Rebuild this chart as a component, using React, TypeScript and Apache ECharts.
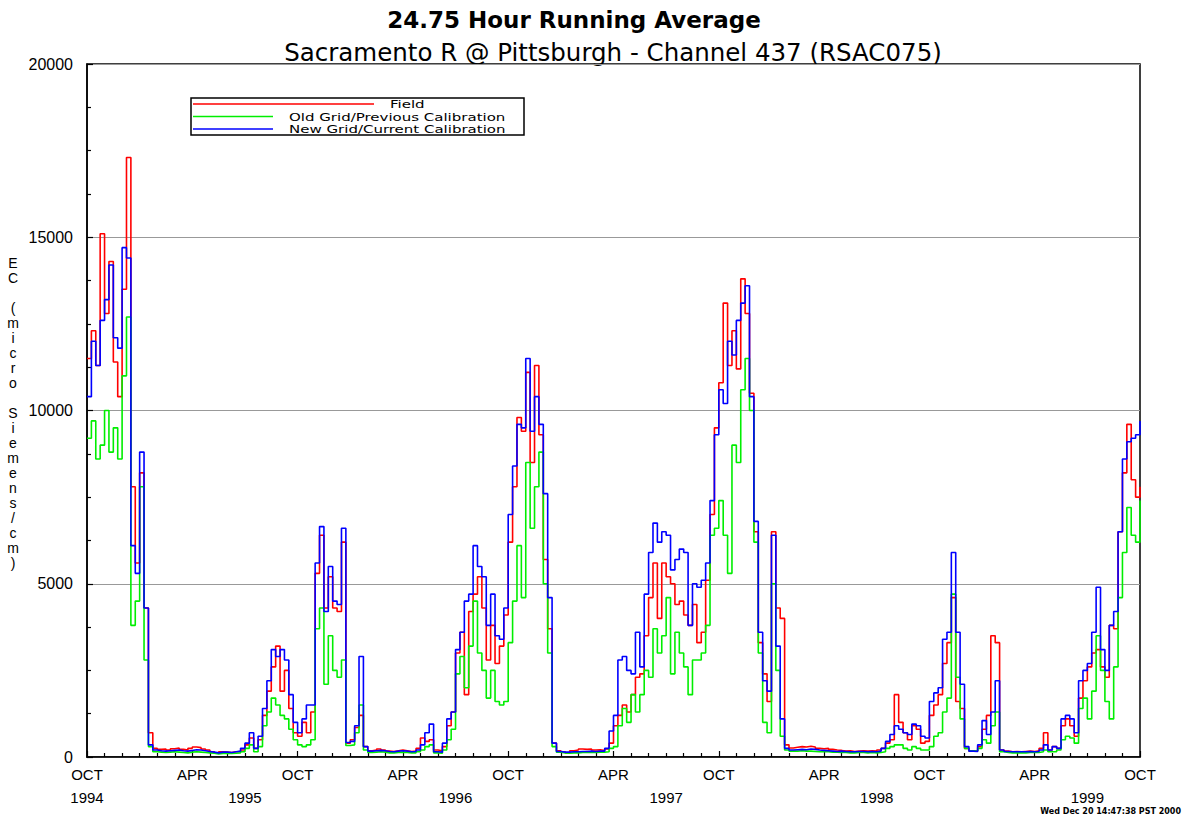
import React, { useEffect, useRef } from 'react';
import * as echarts from 'echarts';

const FONT = '"Liberation Sans", Arial, Helvetica, sans-serif';
const WIDE_FONT = '"DejaVu Sans", "Liberation Sans", Arial, sans-serif';

const chartTitle = '24.75 Hour Running Average';
const chartSubtitle = 'Sacramento R @ Pittsburgh - Channel 437 (RSAC075)';
const yAxisName = 'EC (micro Siemens/cm)';
const timestamp = 'Wed Dec 20 14:47:38 PST 2000';
const seriesNames = ['Field', 'Old Grid/Previous Calibration', 'New Grid/Current Calibration'];
const seriesColors = ['#ff0000', '#00ee00', '#0000ff'];

// x axis: months since 1 Oct 1994, quarter-month samples
const STEP = 0.25;
const monthLabelOct = 'OCT';
const monthLabelApr = 'APR';
const yearLabels = ['1994', '1995', '1996', '1997', '1998', '1999'];
const yearLabelMonths = [0, 9, 21, 33, 45, 57];

// EC values (micro Siemens/cm), one row per water year
const field = [
  11500, 12300, 11300, 15100, 12800, 14300, 11400, 10400, 13500, 17300, 7800, 5600, 8200, 4300, 700, 250,
  220, 230, 200, 240, 260, 220, 200, 250, 290, 270, 230, 200, 150, 110, 150, 140,
  130, 150, 160, 200, 350, 550, 250, 500, 1200, 1900, 2600, 3200, 1900, 2500, 1400, 700,

  600, 1000, 700, 1300, 5300, 6400, 4300, 5200, 4300, 4200, 6200, 400, 500, 850, 1200, 300,
  180, 200, 230, 200, 170, 160, 180, 200, 180, 160, 170, 250, 550, 450, 500, 200,
  180, 300, 900, 1300, 3000, 3600, 1800, 4200, 4700, 5200, 4300, 2800, 3800, 2700, 3200, 4100,

  6200, 7800, 9800, 9400, 11100, 8500, 11300, 9300, 5700, 3700, 400, 180, 150, 120, 180, 200,
  230, 220, 230, 200, 210, 190, 230, 400, 900, 1200, 1500, 1300, 1800, 2300, 2400, 3500,
  4600, 5600, 4000, 5600, 5200, 5000, 4400, 4500, 4100, 3800, 4400, 3300, 3600, 5100, 7000, 9500,

  10800, 13100, 11300, 12300, 11200, 13800, 12800, 10500, 6500, 3300, 2400, 1600, 6500, 4300, 4000, 350,
  260, 280, 300, 290, 310, 290, 250, 240, 250, 220, 200, 190, 170, 180, 160, 170,
  180, 170, 180, 170, 200, 250, 400, 500, 1800, 1000, 700, 500, 900, 800, 400, 450,

  1200, 1500, 1800, 2700, 3300, 4600, 1600, 1400, 250, 170, 180, 300, 800, 1200, 3500, 3300,
  200, 170, 150, 160, 150, 160, 170, 160, 180, 250, 700, 200, 300, 250, 900, 1100,
  900, 600, 1700, 2200, 2600, 3000, 3100, 2600, 2300, 3800, 3700, 6500, 8200, 9600, 8000, 7500, 7800,
];

const oldGrid = [
  9200, 9700, 8600, 9000, 10000, 8800, 9500, 8600, 11000, 12700, 3800, 4500, 7800, 2800, 300, 150,
  140, 130, 140, 150, 140, 130, 120, 140, 150, 140, 130, 120, 110, 90, 100, 100,
  100, 110, 120, 150, 250, 350, 150, 300, 900, 1300, 1700, 1500, 1200, 1100, 800, 500,

  350, 300, 350, 500, 3700, 4300, 2100, 3500, 2500, 2300, 2800, 330, 350, 700, 1500, 200,
  130, 140, 150, 140, 120, 120, 130, 140, 130, 120, 120, 150, 200, 300, 350, 120,
  110, 200, 500, 800, 2400, 2900, 2000, 3200, 4500, 3000, 2500, 1700, 2500, 1600, 1500, 1600,

  3300, 4500, 6100, 4600, 8500, 6600, 7800, 8800, 5000, 3000, 300, 140, 120, 110, 120, 120,
  130, 130, 130, 130, 140, 140, 150, 250, 300, 900, 1400, 1000, 1800, 1300, 1800, 2500,
  2300, 3700, 3000, 3500, 4600, 2400, 3600, 3000, 2600, 1800, 2800, 2800, 3000, 3800, 6400, 6600,

  7400, 6400, 5300, 9000, 8500, 10600, 11500, 10000, 6200, 3000, 1000, 700, 5000, 2500, 600, 200,
  170, 170, 180, 170, 170, 160, 150, 150, 150, 140, 140, 130, 130, 120, 120, 130,
  130, 120, 130, 120, 130, 150, 250, 300, 350, 350, 250, 200, 300, 250, 200, 200,

  300, 600, 700, 1300, 1700, 4700, 2300, 1100, 250, 180, 170, 250, 500, 400, 900, 1300,
  150, 130, 120, 120, 120, 120, 130, 130, 130, 150, 200, 150, 150, 200, 500, 600,
  550, 400, 1400, 1700, 1100, 1900, 3500, 2500, 1600, 1100, 2600, 4600, 5900, 7200, 6400, 6200, 7400,
];

const newGrid = [
  10400, 12000, 11300, 12600, 13200, 14200, 12100, 11800, 14700, 14400, 6100, 5300, 8800, 4300, 350, 200,
  180, 170, 180, 190, 200, 180, 170, 190, 210, 200, 180, 160, 140, 120, 140, 140,
  130, 150, 170, 250, 400, 700, 250, 600, 1400, 2200, 3100, 2900, 3100, 2800, 1800, 1000,

  700, 1100, 1500, 1500, 5600, 6650, 4200, 5500, 4500, 4400, 6600, 420, 450, 900, 2900, 300,
  170, 180, 190, 180, 160, 150, 170, 180, 170, 150, 160, 200, 350, 700, 950, 150,
  140, 400, 1100, 1300, 3100, 3600, 4500, 4700, 6100, 5500, 5200, 3800, 4700, 3500, 3400, 4300,

  7000, 8400, 9600, 9500, 11500, 9400, 10400, 9600, 7600, 4600, 400, 160, 140, 140, 150, 150,
  160, 160, 170, 160, 170, 170, 250, 750, 1200, 2800, 2900, 2500, 2400, 3600, 2600, 4700,
  5900, 6750, 6200, 6500, 6400, 5400, 5700, 6000, 5900, 3800, 5000, 4900, 5100, 5600, 7400, 9300,

  10600, 10200, 12000, 11600, 12600, 13100, 13600, 10400, 6800, 3600, 2200, 1900, 6400, 3200, 1100, 250,
  200, 210, 220, 210, 230, 220, 200, 190, 180, 170, 160, 170, 160, 150, 150, 160,
  160, 150, 160, 150, 170, 250, 450, 650, 900, 800, 700, 650, 950, 900, 600, 550,

  1600, 1850, 2000, 3400, 3600, 5900, 3600, 2100, 300, 170, 160, 350, 1050, 650, 1300, 2200,
  200, 160, 150, 150, 150, 150, 160, 150, 160, 200, 350, 200, 300, 250, 1100, 1200,
  1100, 700, 2200, 2500, 2700, 3600, 4900, 3100, 2500, 3800, 4200, 6500, 8600, 9100, 9200, 9300, 9700,
];

const seriesValues = [field, oldGrid, newGrid];

function buildOption(): echarts.EChartsOption {
  const series = seriesValues.map((vals, k) => ({
    name: seriesNames[k],
    type: 'line' as const,
    step: 'end' as const,
    symbol: 'none',
    data: vals.map((v, i) => [i * STEP, v]),
    lineStyle: { color: seriesColors[k], width: 1.6 },
    itemStyle: { color: seriesColors[k] },
    z: 2 + k,
  }));

  const yName = yAxisName
    .split('')
    .map((c) => (c === ' ' ? '' : c))
    .join('\n');

  const legendText = (text: string, x: number, y: number) => ({
    type: 'text' as const,
    x,
    y,
    scaleX: 1.25,
    scaleY: 0.85,
    style: {
      text,
      fontSize: 12,
      lineHeight: 11,
      fontFamily: WIDE_FONT,
      fill: '#000',
      textVerticalAlign: 'middle' as const,
    },
  });

  return {
    animation: false,
    backgroundColor: '#ffffff',
    textStyle: { fontFamily: FONT },
    grid: {
      left: 87,
      right: 48,
      top: 64,
      bottom: 62,
      show: true,
      borderColor: '#000',
      borderWidth: 1.5,
      backgroundColor: 'transparent',
    },
    xAxis: [
      {
        type: 'value',
        min: 0,
        max: 60,
        interval: 6,
        axisLine: { show: true, onZero: false, lineStyle: { color: '#000', width: 1.5 } },
        axisTick: { show: true, inside: true, length: 6, lineStyle: { color: '#000', width: 1.2 } },
        minorTick: { show: true, splitNumber: 6, length: 4, lineStyle: { color: '#000', width: 1.2 } },
        splitLine: { show: false },
        axisLabel: {
          formatter: (v: number) => (v % 12 === 0 ? monthLabelOct : monthLabelApr),
          fontSize: 15,
          color: '#000',
          margin: 10,
          fontFamily: FONT,
          showMinLabel: true,
          showMaxLabel: true,
        },
      },
      {
        type: 'value',
        min: 0,
        max: 60,
        interval: 3,
        position: 'bottom',
        offset: 23,
        axisLine: { show: false },
        axisTick: { show: false },
        splitLine: { show: false },
        axisLabel: {
          formatter: (v: number) => {
            const idx = yearLabelMonths.indexOf(Math.round(v));
            return idx >= 0 ? yearLabels[idx] : '';
          },
          fontSize: 15,
          color: '#000',
          margin: 10,
          fontFamily: FONT,
          showMinLabel: true,
          showMaxLabel: true,
        },
      },
    ],
    yAxis: {
      type: 'value',
      min: 0,
      max: 20000,
      interval: 5000,
      axisLine: { show: true, lineStyle: { color: '#000', width: 1.5 } },
      axisTick: { show: true, inside: true, length: 6, lineStyle: { color: '#000', width: 1.2 } },
      minorTick: { show: true, splitNumber: 4, length: 4, lineStyle: { color: '#000', width: 1.2 } },
      splitLine: { show: true, lineStyle: { color: '#999', width: 1 } },
      axisLabel: {
        fontSize: 16,
        color: '#000',
        margin: 14,
        fontFamily: FONT,
        formatter: (v: number) => String(v),
      },
    },
    series,
    graphic: [
      {
        type: 'text',
        x: 574,
        y: 20,
        style: {
          text: chartTitle,
          fontSize: 23,
          fontWeight: 'bold',
          fontFamily: WIDE_FONT,
          fill: '#000',
          textAlign: 'center',
          textVerticalAlign: 'middle',
        },
      },
      {
        type: 'text',
        x: 613,
        y: 52,
        style: {
          text: chartSubtitle,
          fontSize: 24.5,
          fontFamily: WIDE_FONT,
          fill: '#000',
          textAlign: 'center',
          textVerticalAlign: 'middle',
        },
      },
      {
        type: 'text',
        x: 13,
        y: 255,
        style: {
          text: yName,
          fontSize: 14,
          lineHeight: 15,
          fontFamily: FONT,
          fill: '#000',
          textAlign: 'center',
        },
      },
      {
        type: 'group',
        z: 100,
        children: [
          {
            type: 'rect',
            shape: { x: 191, y: 98, width: 333, height: 37 },
            style: { fill: '#fff', stroke: '#000', lineWidth: 1.5 },
          },
          {
            type: 'line',
            shape: { x1: 193, y1: 104, x2: 374, y2: 104 },
            style: { stroke: seriesColors[0], lineWidth: 1.5 },
          },
          {
            type: 'line',
            shape: { x1: 193, y1: 116.5, x2: 273, y2: 116.5 },
            style: { stroke: seriesColors[1], lineWidth: 1.5 },
          },
          {
            type: 'line',
            shape: { x1: 193, y1: 129, x2: 273, y2: 129 },
            style: { stroke: seriesColors[2], lineWidth: 1.5 },
          },
          legendText(seriesNames[0], 390, 104.5),
          legendText(seriesNames[1], 289, 117),
          legendText(seriesNames[2], 289, 129.5),
        ],
      },
      {
        type: 'text',
        x: 1181,
        y: 811,
        style: {
          text: timestamp,
          fontSize: 8,
          fontWeight: 'bold',
          fontFamily: WIDE_FONT,
          fill: '#000',
          textAlign: 'right',
          textVerticalAlign: 'middle',
        },
      },
    ],
  };
}

export default function App() {
  const ref = useRef<HTMLDivElement>(null);
  useEffect(() => {
    document.body.style.margin = '0';
    if (!ref.current) return;
    const chart = echarts.init(ref.current, undefined, { renderer: 'svg' });
    chart.setOption(buildOption());
    return () => {
      chart.dispose();
    };
  }, []);
  return <div ref={ref} style={{ width: 1188, height: 819, background: '#fff' }} />;
}
